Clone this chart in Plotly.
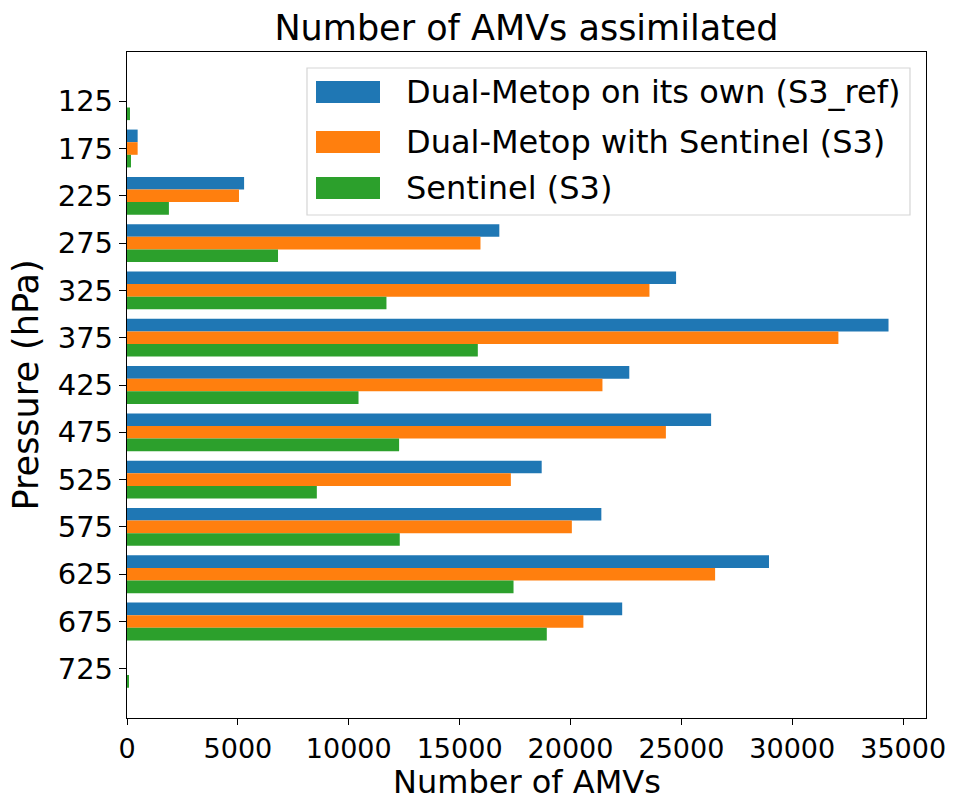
import plotly.graph_objects as go

pressure = [125, 175, 225, 275, 325, 375, 425, 475, 525, 575, 625, 675, 725]
s3_ref = [0, 480, 5280, 16790, 24760, 34340, 22650, 26340, 18700, 21390, 28950, 22330, 0]
s3 = [0, 480, 5050, 15940, 23560, 32080, 21440, 24300, 17310, 20060, 26520, 20580, 0]
sentinel = [135, 180, 1890, 6810, 11700, 15820, 10440, 12270, 8560, 12300, 17430, 18930, 60]

names = ["Dual-Metop on its own (S3_ref)", "Dual-Metop with Sentinel (S3)", "Sentinel (S3)"]
colors = ["#1f77b4", "#ff7f0e", "#2ca02c"]
series = [s3_ref, s3, sentinel]
xticks = [0, 5000, 10000, 15000, 20000, 25000, 30000, 35000]

FONT = "DejaVu Sans"
PH = 666  # plot-area height in px
PW = 799  # plot-area width in px
fig = go.Figure()
for nm, col, vals in zip(names, colors, series):
    fig.add_trace(go.Bar(y=pressure, x=vals, orientation="h", name=nm,
                         marker=dict(color=col, line=dict(width=0)), showlegend=False))

fig.update_layout(
    barmode="group", bargap=0.2, bargroupgap=0,
    width=957, height=802,
    margin=dict(l=127, r=31, t=52, b=84, autoexpand=False),
    paper_bgcolor="white", plot_bgcolor="white",
    font=dict(family=FONT, color="black"),
    title=dict(text="Number of AMVs assimilated", xref="paper", x=0.5, xanchor="center",
               y=1 - 28 / 802, yanchor="middle", font=dict(size=35, family=FONT)),
)
fig.update_xaxes(range=[0, 36030], tickvals=xticks, ticktext=[str(v) for v in xticks],
                 automargin=False,
                 showgrid=False, zeroline=False, showline=True, mirror=True,
                 linecolor="black", linewidth=1.3, ticks="outside", ticklen=6,
                 tickwidth=1.3, tickcolor="black", tickfont=dict(size=27, family=FONT))
fig.update_yaxes(range=[777, 73], tickvals=pressure, ticktext=[str(p) for p in pressure],
                 automargin=False,
                 showgrid=False, zeroline=False, showline=True, mirror=True,
                 linecolor="black", linewidth=1.3, ticks="outside", ticklen=7,
                 tickwidth=1.3, tickcolor="black", tickfont=dict(size=29, family=FONT),
                 title=dict(text="Pressure (hPa)", font=dict(size=35, family=FONT), standoff=8))

# x-axis title
fig.add_annotation(xref="paper", yref="paper", x=0.5, y=-(802 - 718) / PH,
                   xanchor="center", yanchor="bottom", showarrow=False, borderpad=0,
                   text="Number of AMVs", font=dict(size=32, family=FONT, color="black"))

# legend box (drawn in paper coordinates)
x0, x1 = (307 - 127) / PW, (910 - 127) / PW
y0, y1 = 1 - (215 - 52) / PH, 1 - (68 - 52) / PH
fig.add_shape(type="rect", xref="paper", yref="paper", x0=x0, x1=x1, y0=y0, y1=y1,
              line=dict(color="#d5d5d5", width=1.2), fillcolor="rgba(255,255,255,0.8)", layer="above")
rows = [92, 142, 188]
for nm, col, ry in zip(names, colors, rows):
    yc = 1 - (ry - 52) / PH
    h = 11 / PH
    fig.add_shape(type="rect", xref="paper", yref="paper",
                  x0=(316 - 127) / PW, x1=(380 - 127) / PW, y0=yc - h, y1=yc + h,
                  line=dict(width=0), fillcolor=col, layer="above")
    fig.add_annotation(xref="paper", yref="paper", x=(404 - 127) / PW, y=yc,
                       xanchor="left", yanchor="middle", showarrow=False, text=nm,
                       font=dict(size=32, family=FONT, color="black"))

fig.write_html("out.html")
